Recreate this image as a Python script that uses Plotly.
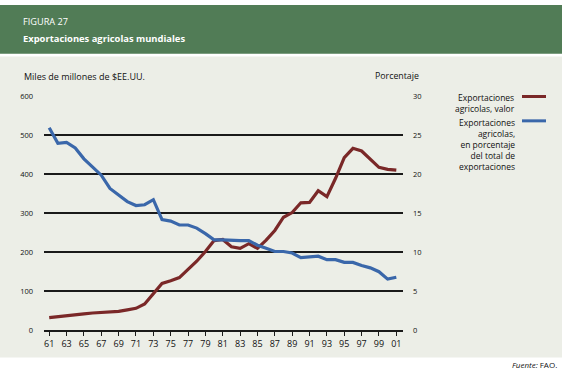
import plotly.graph_objects as go

years = list(range(1961, 2002))
tick_years = list(range(1961, 2002, 2))
tick_labels = [f"{y % 100:02d}" for y in tick_years]

valor = [32, 35, 38, 41, 42, 44, 45, 46, 48, 52, 56, 67, 93, 120, 127, 135, 156, 177, 202, 230,
         233, 214, 210, 222, 210, 231, 256, 290, 302, 327, 328, 358, 343, 390, 443, 467, 460, 440,
         418, 413, 411]
porcentaje = [26.0, 24.0, 24.1, 23.4, 22.0, 20.9, 19.9, 18.2, 17.4, 16.5, 16.0, 16.1, 16.75, 14.2,
              14.0, 13.5, 13.5, 13.1, 12.4, 11.6, 11.6, 11.5, 11.5, 11.5, 10.9, 10.5, 10.1, 10.1,
              9.9, 9.3, 9.45, 9.5, 9.05, 9.05, 8.7, 8.7, 8.3, 8.0, 7.5, 6.55, 6.8]

left_ticks = [0, 100, 200, 300, 400, 500, 600]
right_ticks = [0, 5, 10, 15, 20, 25, 30]

W, H = 562, 377
RED = "#7A2828"
BLUE = "#3A67AA"
BG = "#ECEEE7"
GREEN = "#517C56"
FONT = "Open Sans"

def px(x):
    return x / W

def py(y):
    return 1 - y / H

fig = go.Figure()
fig.add_trace(go.Scatter(x=years, y=valor, mode="lines", line=dict(color=RED, width=3.2),
                         name="valor", yaxis="y"))
fig.add_trace(go.Scatter(x=years, y=porcentaje, mode="lines", line=dict(color=BLUE, width=3.2),
                         name="porcentaje", yaxis="y2"))

shapes = [
    dict(type="rect", xref="paper", yref="paper", x0=0, x1=1, y0=py(50), y1=1,
         fillcolor=GREEN, line=dict(width=0), layer="below"),
    dict(type="rect", xref="paper", yref="paper", x0=0, x1=1, y0=py(362), y1=py(53),
         fillcolor=BG, line=dict(width=0), layer="below"),
    dict(type="line", xref="paper", yref="paper", x0=px(522), x1=px(546), y0=py(94), y1=py(94),
         line=dict(color=RED, width=3)),
    dict(type="line", xref="paper", yref="paper", x0=px(522), x1=px(546), y0=py(119), y1=py(119),
         line=dict(color=BLUE, width=3)),
]

annotations = [
    dict(text="FIGURA 27", x=px(21), y=py(17), xref="paper", yref="paper", xanchor="left",
         yanchor="middle", showarrow=False, font=dict(color="white", size=9.2, family=FONT)),
    dict(text="<b>Exportaciones agricolas mundiales</b>", x=px(21), y=py(34), xref="paper",
         yref="paper", xanchor="left", yanchor="middle", showarrow=False,
         font=dict(color="white", size=9.4, family=FONT)),
    dict(text="Miles de millones de $EE.UU.", x=px(22), y=py(73), xref="paper", yref="paper",
         xanchor="left", yanchor="middle", showarrow=False,
         font=dict(color="#111", size=9, family=FONT)),
    dict(text="Porcentaje", x=px(421), y=py(73), xref="paper", yref="paper",
         xanchor="right", yanchor="middle", showarrow=False,
         font=dict(color="#111", size=8.8, family=FONT)),
    dict(text="Exportaciones<br>agricolas, valor", x=px(517), y=py(87), xref="paper",
         yref="paper", xanchor="right", yanchor="top", align="right", showarrow=False,
         font=dict(color="#111", size=8.5, family=FONT)),
    dict(text="Exportaciones<br>agricolas,<br>en porcentaje<br>del total de<br>exportaciones",
         x=px(517), y=py(113), xref="paper", yref="paper", xanchor="right", yanchor="top",
         align="right", showarrow=False, font=dict(color="#111", size=8.5, family=FONT)),
    dict(text="<i>Fuente:</i> FAO.", x=px(559), y=py(369), xref="paper", yref="paper",
         xanchor="right", yanchor="middle", showarrow=False,
         font=dict(color="#111", size=8, family=FONT)),
]

fig.update_layout(
    width=W, height=H,
    margin=dict(l=0, r=0, t=0, b=0),
    paper_bgcolor="white",
    plot_bgcolor="rgba(0,0,0,0)",
    showlegend=False,
    hovermode=False,
    font=dict(family=FONT, size=8.5, color="#111"),
    xaxis=dict(domain=[px(44), px(403)], range=[1960.4, 2001.77],
               tickmode="array", tickvals=tick_years, ticktext=tick_labels,
               showgrid=False, zeroline=False, showline=True, linecolor="#1a1a1a", linewidth=2,
               ticks="outside", ticklen=4, tickwidth=1, tickcolor="#1a1a1a",
               tickfont=dict(size=9, family=FONT, color="#111")),
    yaxis=dict(domain=[py(334), py(94)], range=[0, 600], tickmode="array", tickvals=left_ticks,
               showgrid=True, gridcolor="#1a1a1a", gridwidth=2, zeroline=False,
               ticks="", ticklabelstandoff=10,
               tickfont=dict(size=7.5, family=FONT, color="#111")),
    yaxis2=dict(domain=[py(334), py(94)], range=[0, 30], overlaying="y", side="right",
                anchor="x", tickmode="array", tickvals=right_ticks, showgrid=False,
                zeroline=False, ticks="", ticklabelstandoff=9,
                tickfont=dict(size=7.5, family=FONT, color="#111")),
    shapes=shapes,
    annotations=annotations,
)

fig.write_html("out.html",
               config={"displayModeBar": False, "staticPlot": True},
               post_script="document.body.style.margin='0';document.body.style.padding='0';"
                           "document.body.style.overflow='hidden';")
